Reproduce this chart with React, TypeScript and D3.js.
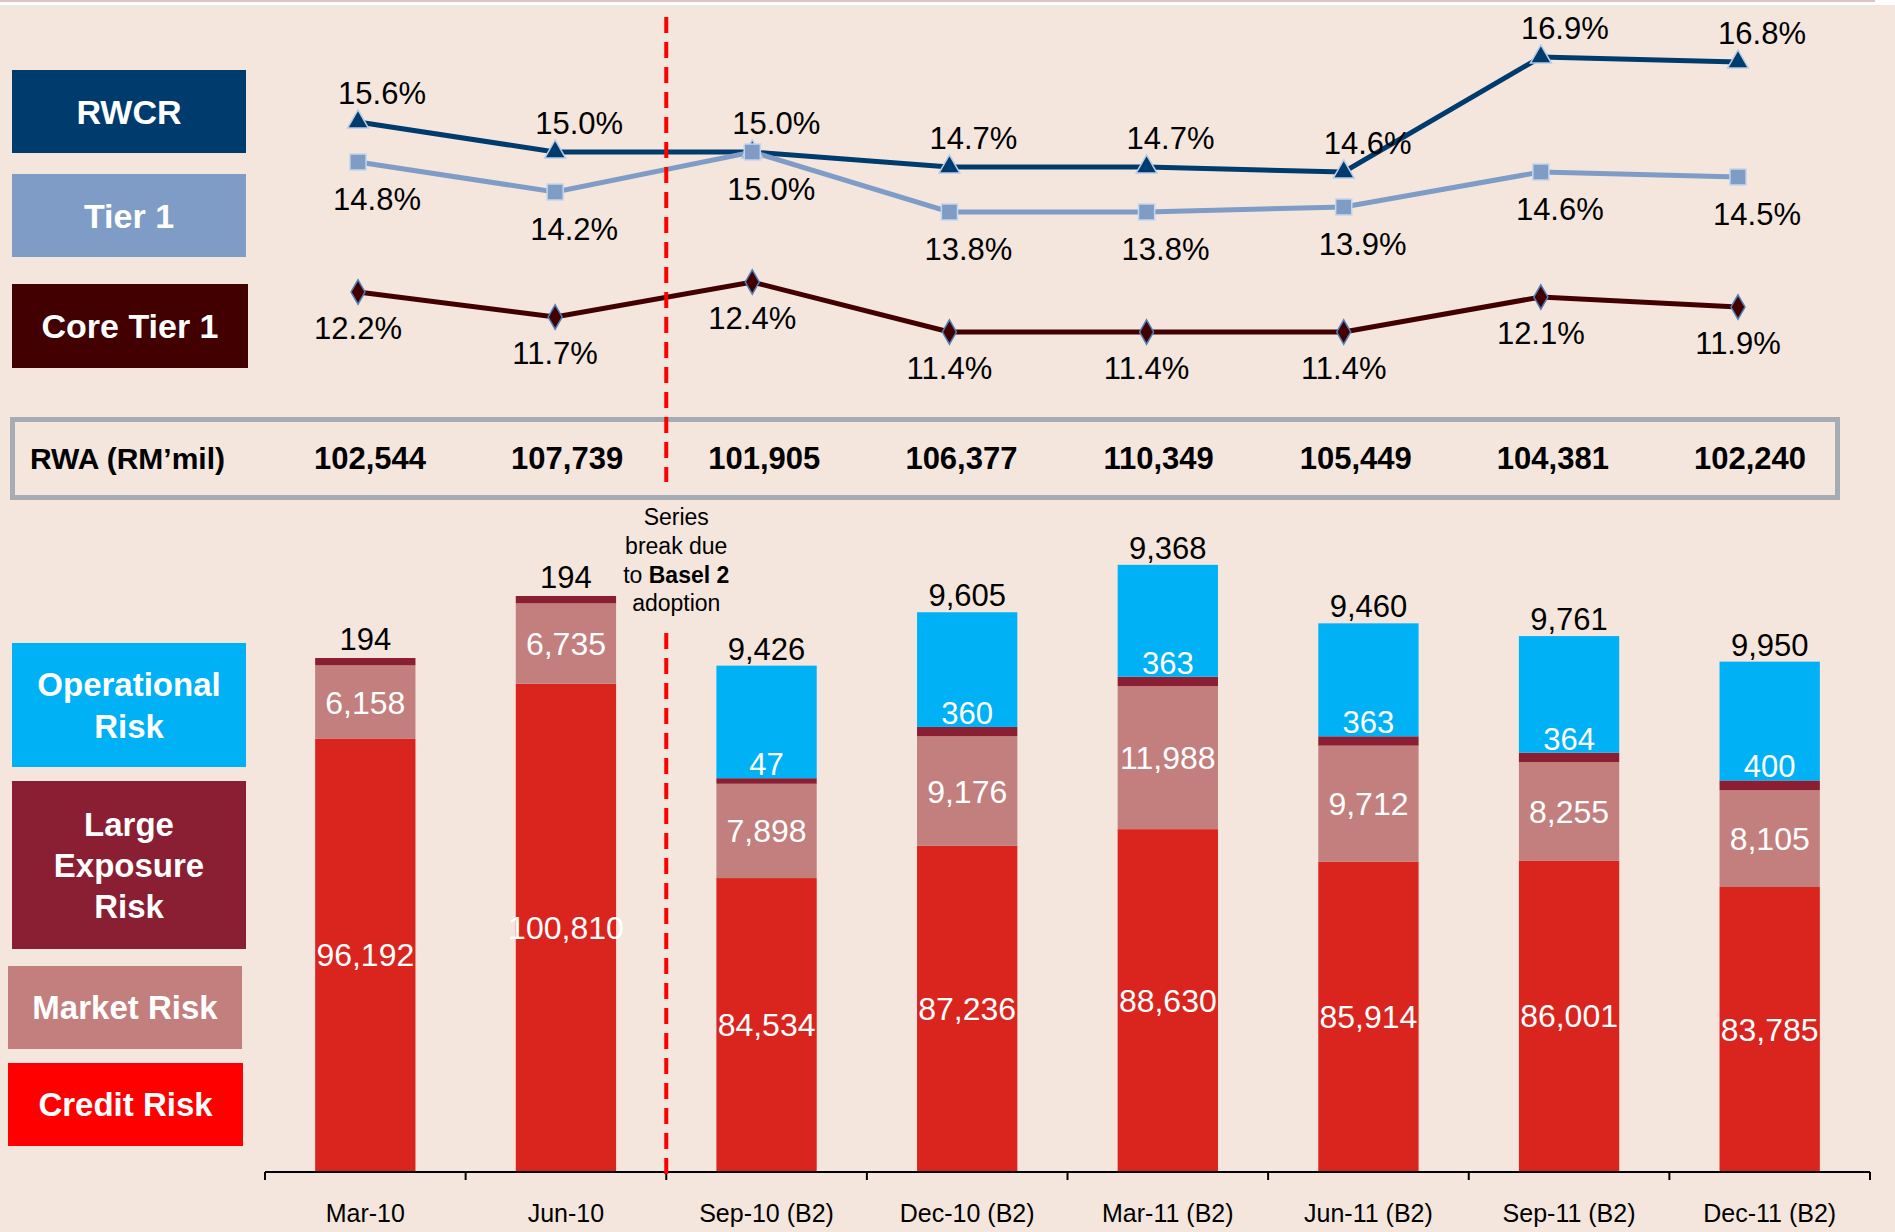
import React, { useEffect, useRef } from "react";
import * as d3 from "d3";

const periods = ["Mar-10", "Jun-10", "Sep-10 (B2)", "Dec-10 (B2)", "Mar-11 (B2)", "Jun-11 (B2)", "Sep-11 (B2)", "Dec-11 (B2)"];
const rwcr = [15.6, 15.0, 15.0, 14.7, 14.7, 14.6, 16.9, 16.8];
const tier1 = [14.8, 14.2, 15.0, 13.8, 13.8, 13.9, 14.6, 14.5];
const coreTier1 = [12.2, 11.7, 12.4, 11.4, 11.4, 11.4, 12.1, 11.9];
const rwa = [102544, 107739, 101905, 106377, 110349, 105449, 104381, 102240];
const creditRisk = [96192, 100810, 84534, 87236, 88630, 85914, 86001, 83785];
const marketRisk = [6158, 6735, 7898, 9176, 11988, 9712, 8255, 8105];
const largeExposure = [194, 194, 47, 360, 363, 363, 364, 400];
const operationalRisk = [0, 0, 9426, 9605, 9368, 9460, 9761, 9950];

const W = 1895;
const H = 1232;
const FONT = "'Liberation Sans', Arial, sans-serif";
const BG = "#F4E6DD";

const C = {
  rwcr: "#003B6E",
  tier1: "#7F9CC6",
  core: "#420000",
  ops: "#00B1F6",
  large: "#8A1E33",
  market: "#C27F7E",
  credit: "#DA251F",
  creditLegend: "#FF0000",
};

const fmt = d3.format(",");

function App() {
  const svgRef = useRef<SVGSVGElement>(null);

  useEffect(() => {
    const svg = d3.select(svgRef.current);
    svg.selectAll("*").remove();

    // background
    svg.append("rect").attr("width", W).attr("height", H).attr("fill", "#fff");
    svg.append("rect").attr("y", 5).attr("width", W).attr("height", H - 5).attr("fill", BG);
    svg.append("line").attr("x1", 0).attr("x2", 1875).attr("y1", 1).attr("y2", 1)
      .attr("stroke", "#E2C3C3").attr("stroke-width", 2);

    // ---------- ratio lines ----------
    const xLine = d3.scalePoint().domain(periods).range([358, 1738]);
    const yLine = d3.scaleLinear().domain([11, 17.5]).range([352, 27]);

    const series = [
      { name: "RWCR", values: rwcr, color: C.rwcr, marker: d3.symbolTriangle, size: 190, outline: "#B8CCE6", dx: 24, dy: -18 },
      { name: "Tier 1", values: tier1, color: C.tier1, marker: d3.symbolSquare, size: 260, outline: "#C6D6EC", dx: 19, dy: 48 },
      { name: "Core Tier 1", values: coreTier1, color: C.core, marker: d3.symbolDiamond, size: 170, outline: "#4F81BD", dx: 0, dy: 47 },
    ];

    const line = d3.line<number>()
      .x((_, i) => xLine(periods[i])!)
      .y(d => yLine(d));

    series.forEach(s => {
      svg.append("path")
        .attr("d", line(s.values))
        .attr("fill", "none")
        .attr("stroke", s.color)
        .attr("stroke-width", 5);
    });

    series.forEach(s => {
      const g = svg.append("g");
      g.selectAll("path")
        .data(s.values)
        .enter()
        .append("path")
        .attr("d", d3.symbol().type(s.marker).size(s.size)())
        .attr("transform", (d, i) => `translate(${xLine(periods[i])},${yLine(d)})`)
        .attr("fill", s.color)
        .attr("stroke", s.outline)
        .attr("stroke-width", 1.5);

      g.selectAll("text")
        .data(s.values)
        .enter()
        .append("text")
        .attr("x", (d, i) => xLine(periods[i])! + s.dx)
        .attr("y", d => yLine(d) + s.dy)
        .attr("text-anchor", "middle")
        .attr("font-family", FONT)
        .attr("font-size", 31)
        .attr("fill", "#000")
        .text(d => d.toFixed(1) + "%");
    });

    // ---------- legend boxes ----------
    const legend = [
      { lines: ["RWCR"], color: C.rwcr, x: 12, y: 70, w: 234, h: 83, fs: 34 },
      { lines: ["Tier 1"], color: C.tier1, x: 12, y: 174, w: 234, h: 83, fs: 34 },
      { lines: ["Core Tier 1"], color: C.core, x: 12, y: 284, w: 236, h: 84, fs: 34 },
      { lines: ["Operational", "Risk"], color: C.ops, x: 12, y: 643, w: 234, h: 124, fs: 33 },
      { lines: ["Large", "Exposure", "Risk"], color: C.large, x: 12, y: 781, w: 234, h: 168, fs: 33 },
      { lines: ["Market Risk"], color: C.market, x: 8, y: 966, w: 234, h: 83, fs: 33 },
      { lines: ["Credit Risk"], color: C.creditLegend, x: 8, y: 1063, w: 235, h: 83, fs: 33 },
    ];
    legend.forEach(l => {
      svg.append("rect").attr("x", l.x).attr("y", l.y).attr("width", l.w).attr("height", l.h).attr("fill", l.color);
      const lh = l.fs * 1.25;
      const y0 = l.y + l.h / 2 - ((l.lines.length - 1) * lh) / 2;
      l.lines.forEach((t, i) => {
        svg.append("text")
          .attr("x", l.x + l.w / 2)
          .attr("y", y0 + i * lh)
          .attr("dy", "0.36em")
          .attr("text-anchor", "middle")
          .attr("font-family", FONT)
          .attr("font-weight", "bold")
          .attr("font-size", l.fs)
          .attr("fill", "#fff")
          .text(t);
      });
    });

    // ---------- RWA row ----------
    svg.append("rect")
      .attr("x", 12.5).attr("y", 419.5).attr("width", 1825).attr("height", 78)
      .attr("fill", "none").attr("stroke", "#A5ACB3").attr("stroke-width", 5);
    svg.append("text")
      .attr("x", 30).attr("y", 458).attr("dy", "0.36em")
      .attr("font-family", FONT).attr("font-weight", "bold").attr("font-size", 30)
      .attr("fill", "#000").text("RWA (RM\u2019mil)");
    svg.append("g").selectAll("text")
      .data(rwa)
      .enter()
      .append("text")
      .attr("x", (d, i) => xLine(periods[i])! + 12)
      .attr("y", 458).attr("dy", "0.36em")
      .attr("text-anchor", "middle")
      .attr("font-family", FONT).attr("font-weight", "bold").attr("font-size", 31)
      .attr("fill", "#000")
      .text(d => fmt(d));

    // ---------- stacked bars ----------
    const x = d3.scaleBand().domain(periods).range([265, 1870]).paddingInner(0.5).paddingOuter(0.25);
    const y = d3.scaleLinear().domain([60000, 110000]).range([1171, 574]);
    const px = (v: number) => y(60000) - y(60000 + v);

    const stacks = periods.map((p, i) => {
      const creditTop = y(creditRisk[i]);
      const marketTop = y(creditRisk[i] + marketRisk[i]);
      const largeTop = marketTop - px(largeExposure[i]) - 5; // thin slice, kept visible
      const opsTop = largeTop - px(operationalRisk[i]);
      return { p, i, creditTop, marketTop, largeTop, opsTop };
    });

    const bars = svg.append("g");
    const bw = x.bandwidth();
    stacks.forEach(s => {
      const bx = x(s.p)!;
      bars.append("rect").attr("x", bx).attr("width", bw).attr("y", s.creditTop).attr("height", y(60000) - s.creditTop).attr("fill", C.credit);
      bars.append("rect").attr("x", bx).attr("width", bw).attr("y", s.marketTop).attr("height", s.creditTop - s.marketTop).attr("fill", C.market);
      bars.append("rect").attr("x", bx).attr("width", bw).attr("y", s.largeTop).attr("height", s.marketTop - s.largeTop).attr("fill", C.large);
      if (operationalRisk[s.i] > 0) {
        bars.append("rect").attr("x", bx).attr("width", bw).attr("y", s.opsTop).attr("height", s.largeTop - s.opsTop).attr("fill", C.ops);
      }
    });

    const labels = svg.append("g").attr("font-family", FONT).attr("text-anchor", "middle");
    stacks.forEach(s => {
      const cx = x(s.p)! + bw / 2;
      const i = s.i;
      labels.append("text").attr("x", cx).attr("y", (s.creditTop + y(60000)) / 2).attr("dy", "0.36em")
        .attr("font-size", 32).attr("fill", "#fff").text(fmt(creditRisk[i]));
      labels.append("text").attr("x", cx).attr("y", (s.marketTop + s.creditTop) / 2).attr("dy", "0.36em")
        .attr("font-size", 32).attr("fill", "#fff").text(fmt(marketRisk[i]));
      if (operationalRisk[i] > 0) {
        labels.append("text").attr("x", cx).attr("y", s.largeTop - 3)
          .attr("font-size", 31).attr("fill", "#fff").text(fmt(largeExposure[i]));
        labels.append("text").attr("x", cx).attr("y", s.opsTop - 6)
          .attr("font-size", 31).attr("fill", "#000").text(fmt(operationalRisk[i]));
      } else {
        labels.append("text").attr("x", cx).attr("y", s.largeTop - 8)
          .attr("font-size", 31).attr("fill", "#000").text(fmt(largeExposure[i]));
      }
    });

    // axis with ticks at band boundaries
    const axis = svg.append("g");
    const [r0, r1] = x.range();
    axis.append("line").attr("x1", r0).attr("x2", r1).attr("y1", 1172).attr("y2", 1172)
      .attr("stroke", "#000").attr("stroke-width", 2);
    d3.range(periods.length + 1).forEach(k => {
      const tx = r0 + k * x.step();
      axis.append("line").attr("x1", tx).attr("x2", tx).attr("y1", 1172).attr("y2", 1180)
        .attr("stroke", "#000").attr("stroke-width", 2);
    });
    axis.selectAll("text.tick")
      .data(periods)
      .enter()
      .append("text")
      .attr("x", d => x(d)! + bw / 2)
      .attr("y", 1222)
      .attr("text-anchor", "middle")
      .attr("font-family", FONT)
      .attr("font-size", 25)
      .attr("fill", "#000")
      .text(d => d);

    // series break marker
    const bx = r0 + 2 * x.step();
    const dash = svg.append("g").attr("stroke", "#FF0000").attr("stroke-width", 4).attr("stroke-dasharray", "16 9");
    dash.append("line").attr("x1", bx).attr("x2", bx).attr("y1", 17).attr("y2", 482);
    dash.append("line").attr("x1", bx).attr("x2", bx).attr("y1", 633).attr("y2", 1182);

    const note = svg.append("text").attr("font-family", FONT).attr("font-size", 23).attr("text-anchor", "middle").attr("fill", "#000");
    note.append("tspan").attr("x", bx + 10).attr("y", 525).text("Series");
    note.append("tspan").attr("x", bx + 10).attr("y", 554).text("break due");
    const l3 = note.append("tspan").attr("x", bx + 10).attr("y", 583);
    l3.append("tspan").text("to ");
    l3.append("tspan").attr("font-weight", "bold").text("Basel 2");
    note.append("tspan").attr("x", bx + 10).attr("y", 611).text("adoption");
  }, []);

  return (
    <svg
      ref={svgRef}
      width={W}
      height={H}
      style={{ position: "absolute", left: 0, top: 0, display: "block" }}
    />
  );
}

export default App;
